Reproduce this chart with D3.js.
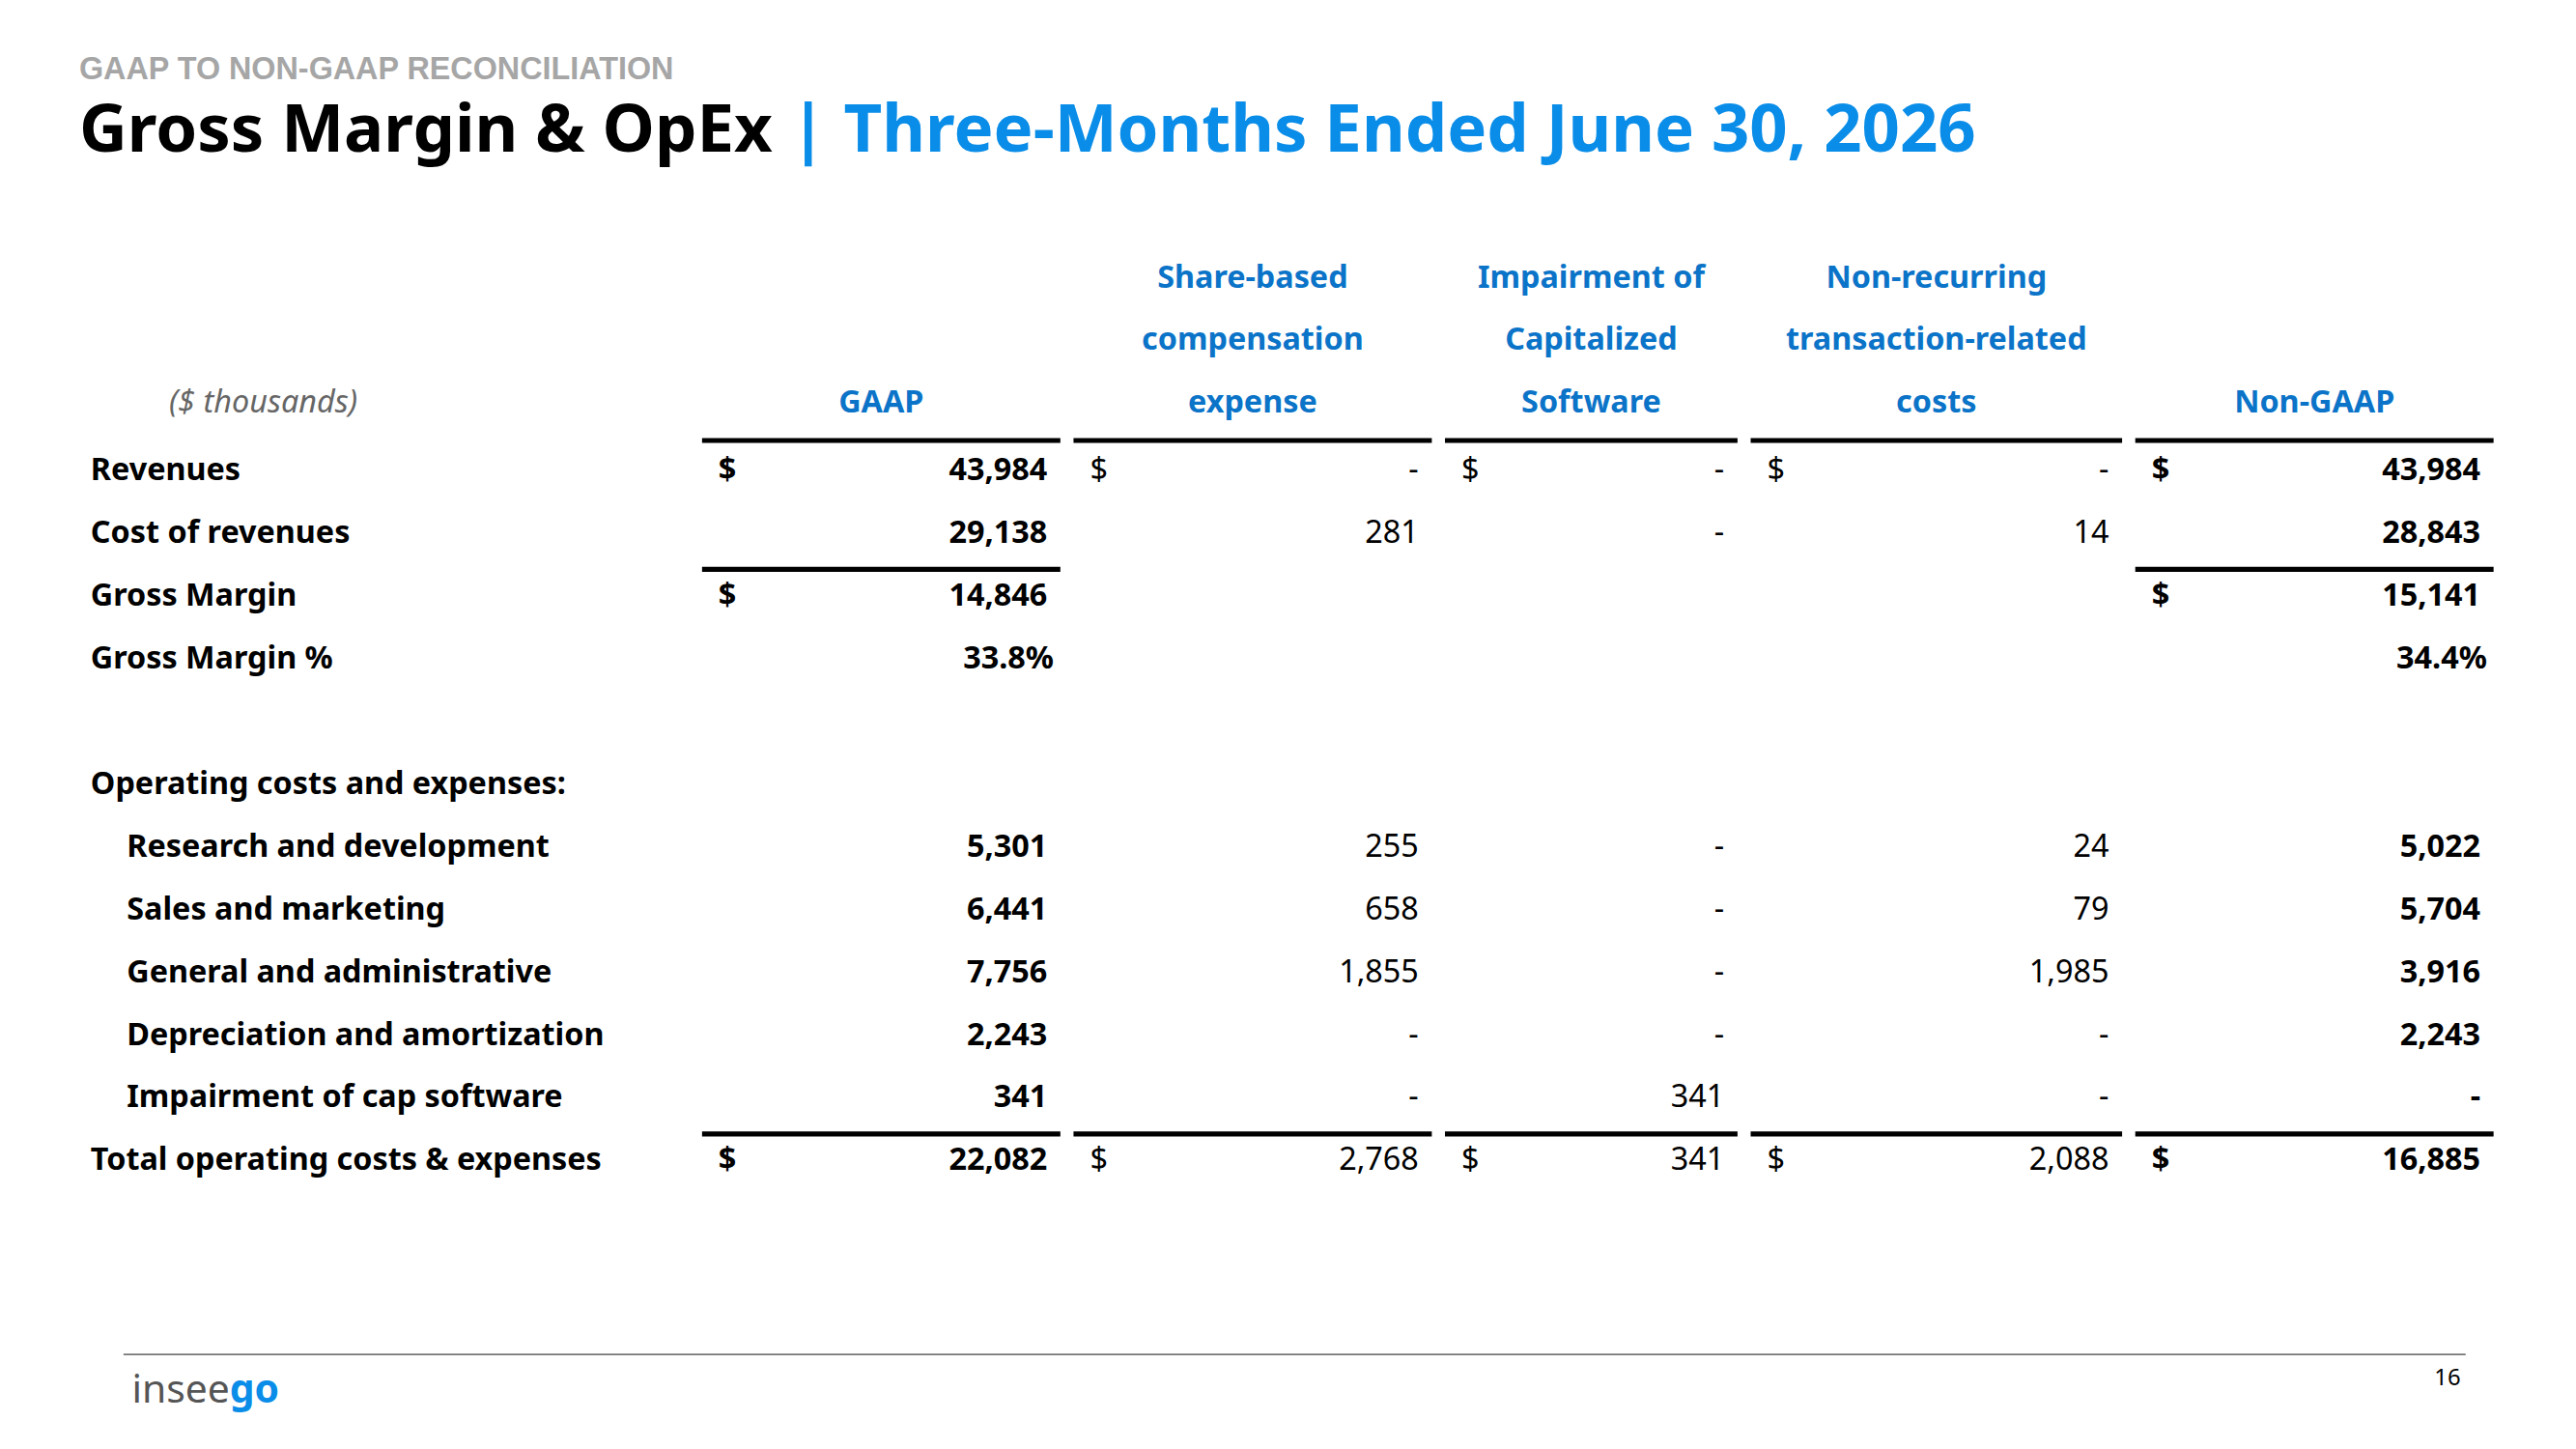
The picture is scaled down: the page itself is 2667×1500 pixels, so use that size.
<!DOCTYPE html>
<html>
<head>
<meta charset="utf-8">
<script src="https://cdn.jsdelivr.net/npm/d3@7"></script>
<style>
  body { margin: 0; background: #fff; }
  text { font-family: "Noto Sans", sans-serif; }
</style>
</head>
<body>
<svg id="chart" width="2667" height="1500" viewBox="0 0 1567 881.5"></svg>
<script>
const columns = ["GAAP", "Share-based|compensation|expense", "Impairment of|Capitalized|Software", "Non-recurring|transaction-related|costs", "Non-GAAP"];
const rowLabels = ["Revenues", "Cost of revenues", "Gross Margin", "Gross Margin %", "", "Operating costs and expenses:",
  "Research and development", "Sales and marketing", "General and administrative", "Depreciation and amortization",
  "Impairment of cap software", "Total operating costs & expenses"];
const indented = [false, false, false, false, false, false, true, true, true, true, true, false];
// one array per column, "" = empty cell
const gaap     = ["43,984", "29,138", "14,846", "33.8%", "", "", "5,301", "6,441", "7,756", "2,243", "341", "22,082"];
const sbc      = ["-", "281", "", "", "", "", "255", "658", "1,855", "-", "-", "2,768"];
const impair   = ["-", "-", "", "", "", "", "-", "-", "-", "-", "341", "341"];
const nonrec   = ["-", "14", "", "", "", "", "24", "79", "1,985", "-", "-", "2,088"];
const nongaap  = ["43,984", "28,843", "15,141", "34.4%", "", "", "5,022", "5,704", "3,916", "2,243", "-", "16,885"];
const dollarRows = [[0, 2, 11], [0, 11], [0, 11], [0, 11], [0, 2, 11]];
const subtotalRows = [[2, 11], [11], [11], [11], [2, 11]];
const series = [gaap, sbc, impair, nonrec, nongaap];

const svg = d3.select("#chart");
const blue = "#0a8de8", hdrBlue = "#0b74c8";

// column geometry
const colL = [427, 653, 879, 1065, 1299];
const colR = [645, 871, 1057, 1291, 1517];
const x = d3.scaleBand().domain(d3.range(rowLabels.length)).range([266, 724]);
const rowY = i => x(i) + x.bandwidth() / 2 + 7;

svg.append("text").attr("x", 48).attr("y", 48).attr("fill", "#a6a6a6")
  .style("font-family", "Liberation Sans, Arial").attr("font-weight", "bold").attr("font-size", 19)
  .text("GAAP TO NON-GAAP RECONCILIATION");
const t = svg.append("text").attr("x", 48).attr("y", 92).attr("font-size", 40).attr("font-weight", "bold")
  .attr("textLength", 1154).attr("lengthAdjust", "spacingAndGlyphs");
t.append("tspan").text("Gross Margin & OpEx");
t.append("tspan").attr("fill", blue).text(" | Three-Months Ended June 30, 2026");

svg.append("text").attr("x", 160).attr("y", 251).attr("text-anchor", "middle").attr("font-style", "italic")
  .attr("fill", "#666").attr("font-size", 19).text("($ thousands)");

columns.forEach((c, j) => {
  const parts = c.split("|");
  const cx = (colL[j] + colR[j]) / 2;
  parts.forEach((p, k) => {
    svg.append("text").attr("x", cx).attr("y", 251 - (parts.length - 1 - k) * 38)
      .attr("text-anchor", "middle").attr("fill", hdrBlue).attr("font-weight", "bold").attr("font-size", 19).text(p);
  });
  svg.append("line").attr("x1", colL[j]).attr("x2", colR[j]).attr("y1", 268).attr("y2", 268)
    .attr("stroke", "#000").attr("stroke-width", 3);
  subtotalRows[j].forEach(r => {
    const ly = x(r) + 4;
    svg.append("line").attr("x1", colL[j]).attr("x2", colR[j]).attr("y1", ly).attr("y2", ly)
      .attr("stroke", "#000").attr("stroke-width", 3);
  });
  const bold = (j === 0 || j === 4) ? "bold" : "normal";
  svg.append("g").selectAll("text").data(series[j]).join("text")
    .attr("x", (d, i) => d.endsWith("%") ? colR[j] - 4 : colR[j] - 8)
    .attr("y", (d, i) => rowY(i)).attr("text-anchor", "end")
    .attr("font-size", 19).attr("font-weight", bold).text(d => d);
  svg.append("g").selectAll("text").data(dollarRows[j]).join("text")
    .attr("x", colL[j] + 10).attr("y", r => rowY(r))
    .attr("font-size", 19).attr("font-weight", bold).text("$");
});

svg.append("g").selectAll("text").data(rowLabels).join("text")
  .attr("x", (d, i) => indented[i] ? 77 : 55).attr("y", (d, i) => rowY(i))
  .attr("font-size", 19).attr("font-weight", "bold").text(d => d);

svg.append("line").attr("x1", 75).attr("x2", 1500).attr("y1", 824).attr("y2", 824)
  .attr("stroke", "#777").attr("stroke-width", 1);
const logo = svg.append("text").attr("x", 80).attr("y", 853).attr("font-size", 24).attr("fill", "#555");
logo.append("tspan").text("insee");
logo.append("tspan").attr("fill", blue).attr("font-weight", "bold").text("go");
svg.append("text").attr("x", 1497).attr("y", 843).attr("text-anchor", "end").attr("font-size", 14).text("16");
</script>
</body>
</html>
